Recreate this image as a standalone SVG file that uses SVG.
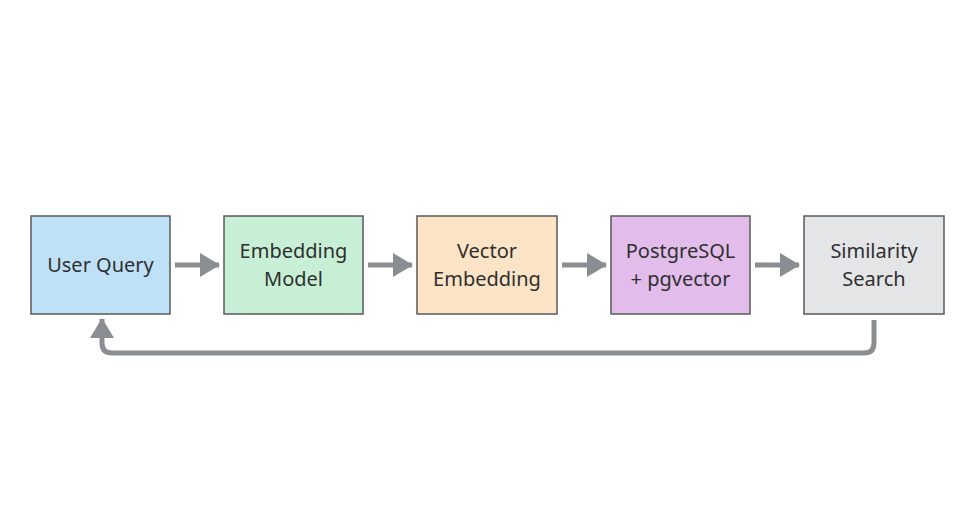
<svg xmlns="http://www.w3.org/2000/svg" width="975" height="531" viewBox="0 0 975 531">
<style>
.box{stroke:#5a5a5a;stroke-width:1.5}
.lbl{font-family:"Noto Sans","DejaVu Sans",sans-serif;font-size:20px;fill:#2f2f2f;text-anchor:middle}
.conn{stroke:#8a8d91;stroke-width:5;fill:none}
</style>
<defs>
<marker id="ah" markerUnits="userSpaceOnUse" markerWidth="20" markerHeight="24" refX="19" refY="12" orient="auto">
<path d="M0,0 L20,12 L0,24 Z" fill="#8a8d91"/>
</marker>
</defs>
<rect width="975" height="531" fill="#ffffff"/>
<g id="n1"><rect class="box" x="31" y="216" width="139" height="98" fill="#bee1f8"/><text class="lbl" x="100.5" y="272">User Query</text></g>
<g id="n2"><rect class="box" x="224" y="216" width="139" height="98" fill="#c7efd5"/><text class="lbl" x="293.5" y="258">Embedding</text><text class="lbl" x="293.5" y="286">Model</text></g>
<g id="n3"><rect class="box" x="417" y="216" width="140" height="98" fill="#fde4c6"/><text class="lbl" x="487" y="258">Vector</text><text class="lbl" x="487" y="286">Embedding</text></g>
<g id="n4"><rect class="box" x="611" y="216" width="139" height="98" fill="#e2bdeb"/><text class="lbl" x="680.5" y="258">PostgreSQL</text><text class="lbl" x="680.5" y="286">+ pgvector</text></g>
<g id="n5"><rect class="box" x="804" y="216" width="140" height="98" fill="#e4e5e7"/><text class="lbl" x="874" y="258">Similarity</text><text class="lbl" x="874" y="286">Search</text></g>
<g id="connectors">
<line class="conn" x1="175" y1="265" x2="219" y2="265" marker-end="url(#ah)"/>
<line class="conn" x1="368" y1="265" x2="412" y2="265" marker-end="url(#ah)"/>
<line class="conn" x1="562" y1="265" x2="606" y2="265" marker-end="url(#ah)"/>
<line class="conn" x1="755" y1="265" x2="799" y2="265" marker-end="url(#ah)"/>
<path class="conn" d="M874,320 L874,343 Q874,353 864,353 L112,353 Q102,353 102,343 L102,319" marker-end="url(#ah)"/>
</g>
</svg>
